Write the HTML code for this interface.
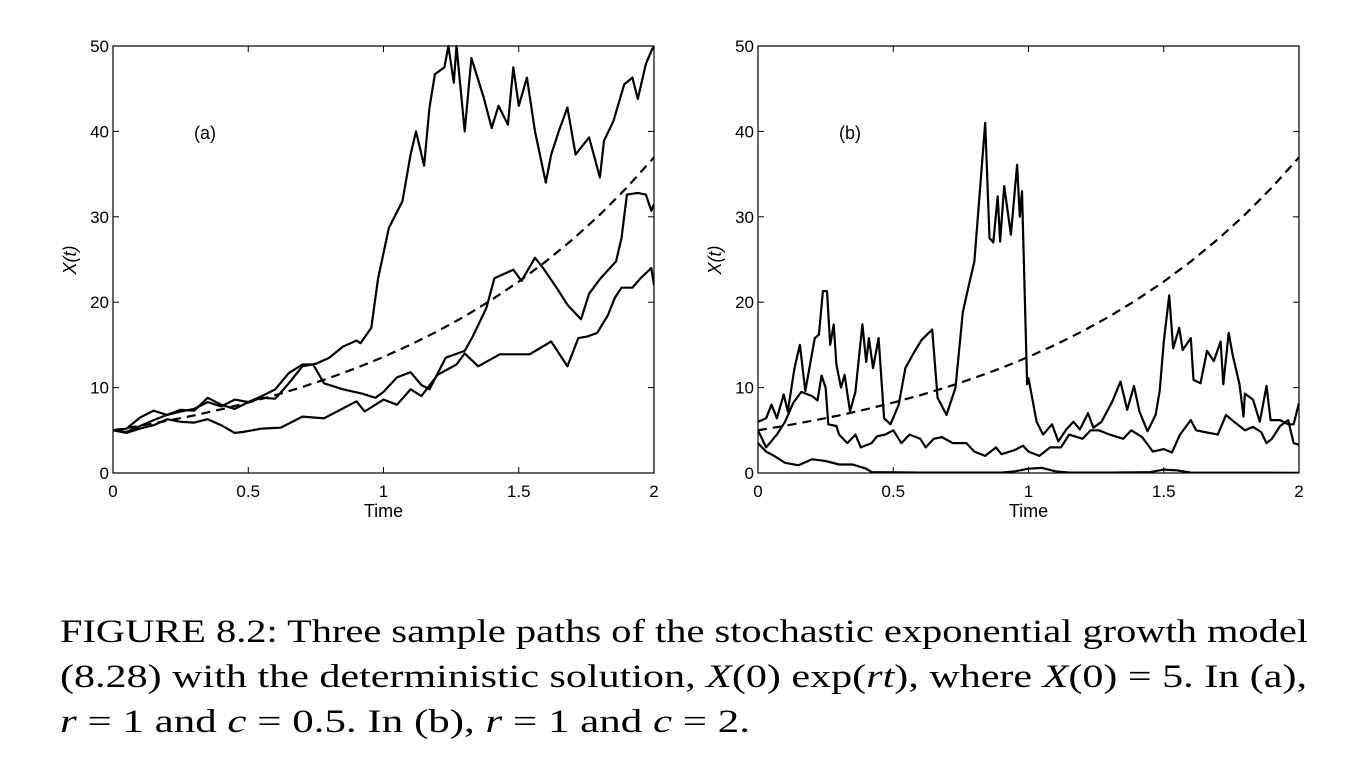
<!DOCTYPE html>
<html><head><meta charset="utf-8"><style>
body{margin:0;background:#fff;width:1361px;height:767px;overflow:hidden;position:relative}
svg{position:absolute;left:0;top:0}
.cap{position:absolute;left:60px;font-family:"Liberation Serif",serif;font-size:33px;line-height:33px;white-space:nowrap;color:#000;transform-origin:0 0;display:inline-block}
i{font-style:italic}
</style></head><body>
<svg id="fig" width="1361" height="767" xmlns="http://www.w3.org/2000/svg"></svg>
<div class="cap" id="c1" data-w="1248" style="top:616px">FIGURE 8.2: Three sample paths of the stochastic exponential growth model</div>
<div class="cap" id="c2" data-w="1247" style="top:661px">(8.28) with the deterministic solution, <i>X</i>(0) exp(<i>rt</i>), where <i>X</i>(0) = 5. In (a),</div>
<div class="cap" id="c3" data-w="690" style="top:706px"><i>r</i> = 1 and <i>c</i> = 0.5. In (b), <i>r</i> = 1 and <i>c</i> = 2.</div>
<script>
const xTicks=[0,0.5,1,1.5,2];
const xTickLabels=["0","0.5","1","1.5","2"];
const yTicks=[0,10,20,30,40,50];
const yTickLabels=["0","10","20","30","40","50"];
const detT=[0,0.1,0.2,0.3,0.4,0.5,0.6,0.7,0.8,0.9,1,1.1,1.2,1.3,1.4,1.5,1.6,1.7,1.8,1.9,2];
const detV=[5,5.53,6.11,6.75,7.46,8.24,9.11,10.07,11.13,12.30,13.59,15.02,16.60,18.35,20.28,22.41,24.77,27.37,30.25,33.43,36.95];
const a1T=[0,0.05,0.1,0.15,0.2,0.25,0.3,0.35,0.4,0.45,0.5,0.55,0.6,0.65,0.7,0.75,0.8,0.85,0.9,0.915,0.955,0.98,1.02,1.07,1.1,1.12,1.15,1.17,1.19,1.225,1.24,1.26,1.27,1.3,1.325,1.37,1.4,1.425,1.46,1.48,1.5,1.53,1.56,1.6,1.62,1.65,1.68,1.71,1.76,1.8,1.815,1.85,1.89,1.92,1.94,1.97,1.99,2];
const a1V=[5,5.2,6.5,7.3,6.8,7.2,7.5,8.3,7.8,8.6,8.3,8.8,8.7,10.5,12.5,12.8,13.5,14.8,15.5,15.2,17,22.8,28.7,31.8,37.3,40,36,42.8,46.7,47.5,50,45.7,50,40,48.6,44,40.4,43,40.8,47.5,43,46.3,40,34,37.3,40.2,42.8,37.3,39.3,34.6,38.9,41.2,45.5,46.3,43.8,47.9,49.4,50];
const a2T=[0,0.05,0.1,0.15,0.2,0.25,0.3,0.35,0.4,0.45,0.5,0.55,0.6,0.65,0.7,0.74,0.78,0.85,0.92,0.97,1,1.05,1.1,1.14,1.17,1.23,1.3,1.33,1.38,1.41,1.48,1.51,1.56,1.59,1.64,1.68,1.73,1.76,1.8,1.86,1.88,1.9,1.94,1.97,1.99,2];
const a2V=[5,4.8,5.5,6.2,6.8,7.4,7.3,8.8,8,7.5,8.3,9,9.8,11.7,12.7,12.7,10.5,9.8,9.3,8.8,9.5,11.2,11.8,10.3,9.8,13.5,14.3,16,19.3,22.8,23.8,22.5,25.2,24,21.7,19.7,18,21,22.7,24.8,27.5,32.6,32.8,32.6,30.7,31.5];
const a3T=[0,0.05,0.1,0.15,0.2,0.25,0.3,0.35,0.4,0.45,0.48,0.55,0.62,0.7,0.78,0.9,0.93,1,1.05,1.1,1.14,1.2,1.27,1.3,1.35,1.43,1.48,1.54,1.62,1.68,1.72,1.755,1.79,1.83,1.855,1.88,1.92,1.95,1.99,2];
const a3V=[5,4.7,5.2,5.6,6.3,6,5.9,6.3,5.6,4.7,4.8,5.2,5.3,6.6,6.4,8.4,7.2,8.6,8,9.8,9,11.5,12.7,14,12.5,13.9,13.9,13.9,15.4,12.5,15.8,16,16.4,18.5,20.5,21.7,21.7,22.8,24,22];
const b1T=[0,0.03,0.05,0.07,0.095,0.11,0.135,0.155,0.175,0.21,0.225,0.24,0.255,0.267,0.28,0.29,0.307,0.32,0.34,0.36,0.386,0.4,0.41,0.425,0.446,0.466,0.49,0.52,0.545,0.58,0.605,0.644,0.664,0.697,0.73,0.757,0.776,0.8,0.84,0.856,0.87,0.886,0.895,0.91,0.935,0.958,0.968,0.976,0.995,1,1.03,1.054,1.087,1.11,1.14,1.166,1.19,1.22,1.24,1.27,1.31,1.34,1.365,1.39,1.41,1.44,1.47,1.485,1.5,1.52,1.535,1.557,1.57,1.6,1.61,1.636,1.66,1.685,1.71,1.72,1.74,1.755,1.78,1.795,1.8,1.83,1.855,1.88,1.895,1.93,1.96,1.98,2];
const b1V=[6,6.4,8,6.4,9.2,7.2,12.3,15,9.6,15.8,16.2,21.3,21.3,15,17.4,12.7,10,11.5,7.2,9.5,17.4,13,15.8,12.3,15.8,6.4,5.7,8,12.3,14.3,15.6,16.8,8.8,6.8,10,18.8,21.5,24.8,41,27.5,27,32.4,27.1,33.6,27.9,36.1,30,33,10.4,11.1,6,4.5,5.7,3.7,5.1,6,5.1,7,5.3,6,8.4,10.7,7.4,10.2,7.2,4.9,6.8,9.6,15.4,20.8,14.6,17,14.4,15.8,10.9,10.5,14.3,13.1,15.4,10.4,16.4,13.8,10.4,6.6,9.3,8.6,6,10.2,6.2,6.2,5.7,5.7,8.2];
const b2T=[0,0.03,0.07,0.1,0.13,0.16,0.2,0.22,0.235,0.25,0.26,0.29,0.3,0.33,0.36,0.38,0.42,0.44,0.47,0.5,0.53,0.56,0.6,0.62,0.65,0.68,0.72,0.77,0.8,0.84,0.88,0.9,0.95,0.98,1,1.04,1.08,1.12,1.15,1.2,1.23,1.26,1.3,1.35,1.38,1.42,1.46,1.5,1.53,1.56,1.6,1.62,1.65,1.7,1.73,1.76,1.8,1.83,1.86,1.88,1.9,1.93,1.96,1.98,2];
const b2V=[5,3,4.5,6,8.2,9.5,9,8.5,11.4,10,5.7,5.5,4.5,3.5,4.5,3,3.5,4.3,4.5,5,3.5,4.5,4,3,4,4.2,3.5,3.5,2.5,2,3,2.2,2.7,3.2,2.5,2,3,3,4.5,4,5,5,4.5,4,5,4.2,2.5,2.8,2.4,4.5,6.2,5,4.8,4.5,6.8,6,5,5.4,4.8,3.5,4,5.5,6.2,3.5,3.3];
const b3T=[0,0.03,0.06,0.1,0.15,0.2,0.25,0.3,0.35,0.4,0.42,0.6,0.9,0.95,1.0,1.05,1.1,1.15,1.3,1.45,1.5,1.55,1.6,2];
const b3V=[3.5,2.5,2,1.2,0.9,1.6,1.4,1,1,0.5,0.1,0.05,0.05,0.2,0.5,0.6,0.2,0.05,0.05,0.1,0.4,0.3,0.05,0.02];

const NS="http://www.w3.org/2000/svg";
const svg=document.getElementById('fig');
function mk(tag,attrs,parent){const e=document.createElementNS(NS,tag);for(const k in attrs)e.setAttribute(k,attrs[k]);(parent||svg).appendChild(e);return e;}
function panel(left,label,key,series){
  const right=left+541,top=46,bottom=473;
  const sx=t=>left+(t-0)/(2-0)*(right-left);
  const sy=v=>bottom-(v-0)/(50-0)*(bottom-top);
  const g=mk('g',{});
  
  
  const clipId='clip'+key;
  const cp=mk('clipPath',{id:clipId},g);
  mk('rect',{x:left,y:top-1,width:right-left,height:bottom-top+1},cp);
  const fr=mk('rect',{x:left,y:top,width:right-left,height:bottom-top,fill:'none',stroke:'#000','stroke-width':1.2},g);
  
  
  xTicks.forEach((t,i)=>{
    const x=sx(t);
    mk('line',{x1:x,y1:bottom,x2:x,y2:bottom-6,stroke:'#000','stroke-width':1},g);
    mk('line',{x1:x,y1:top,x2:x,y2:top+6,stroke:'#000','stroke-width':1},g);
    const tx=mk('text',{x:x,y:bottom+24,'text-anchor':'middle','font-family':'Liberation Sans, sans-serif','font-size':17},g);
    tx.textContent=xTickLabels[i];
    
    
  });
  yTicks.forEach((v,i)=>{
    const y=sy(v);
    mk('line',{x1:left,y1:y,x2:left+6,y2:y,stroke:'#000','stroke-width':1},g);
    mk('line',{x1:right,y1:y,x2:right-6,y2:y,stroke:'#000','stroke-width':1},g);
    const tx=mk('text',{x:left-4,y:y+6,'text-anchor':'end','font-family':'Liberation Sans, sans-serif','font-size':17},g);
    tx.textContent=yTickLabels[i];
    
    
  });
  const xt=mk('text',{x:(left+right)/2,y:517,'text-anchor':'middle','font-family':'Liberation Sans, sans-serif','font-size':18},g);
  xt.textContent='Time';
  
  
  const yt=mk('text',{x:0,y:0,'text-anchor':'middle','font-family':'Liberation Sans, sans-serif','font-size':18,'font-style':'italic',transform:'translate('+(left-37)+',260) rotate(-90)'},g);
  yt.textContent='X(t)';
  
  
  const pl=mk('text',{x:left+81,y:139,'font-family':'Liberation Sans, sans-serif','font-size':18},g);
  pl.textContent=label;
  
  
  series.forEach((s,i)=>{
    const d=s.t.map((t,j)=>(j?'L':'M')+sx(t).toFixed(1)+' '+sy(s.v[j]).toFixed(1)).join(' ');
    const p=mk('path',{d:d,fill:'none',stroke:'#000','stroke-width':2.2,'stroke-linejoin':'round','clip-path':'url(#'+clipId+')'},g);
    if(s.dash)p.setAttribute('stroke-dasharray','9 6');
    
    
  });
}
panel(113,'(a)','a',[
  {t:detT,v:detV,dash:true,name:'deterministic-curve'},
  {t:a1T,v:a1V,name:'sample-path-1'},
  {t:a2T,v:a2V,name:'sample-path-2'},
  {t:a3T,v:a3V,name:'sample-path-3'}]);
panel(758,'(b)','b',[
  {t:detT,v:detV,dash:true,name:'deterministic-curve'},
  {t:b1T,v:b1V,name:'sample-path-1'},
  {t:b2T,v:b2V,name:'sample-path-2'},
  {t:b3T,v:b3V,name:'sample-path-3'}]);
['c1','c2','c3'].forEach(id=>{
  const el=document.getElementById(id);
  const w=el.getBoundingClientRect().width;
  const target=+el.getAttribute('data-w');
  el.style.transform='scaleX('+(target/w)+')';
});
</script>
</body></html>
